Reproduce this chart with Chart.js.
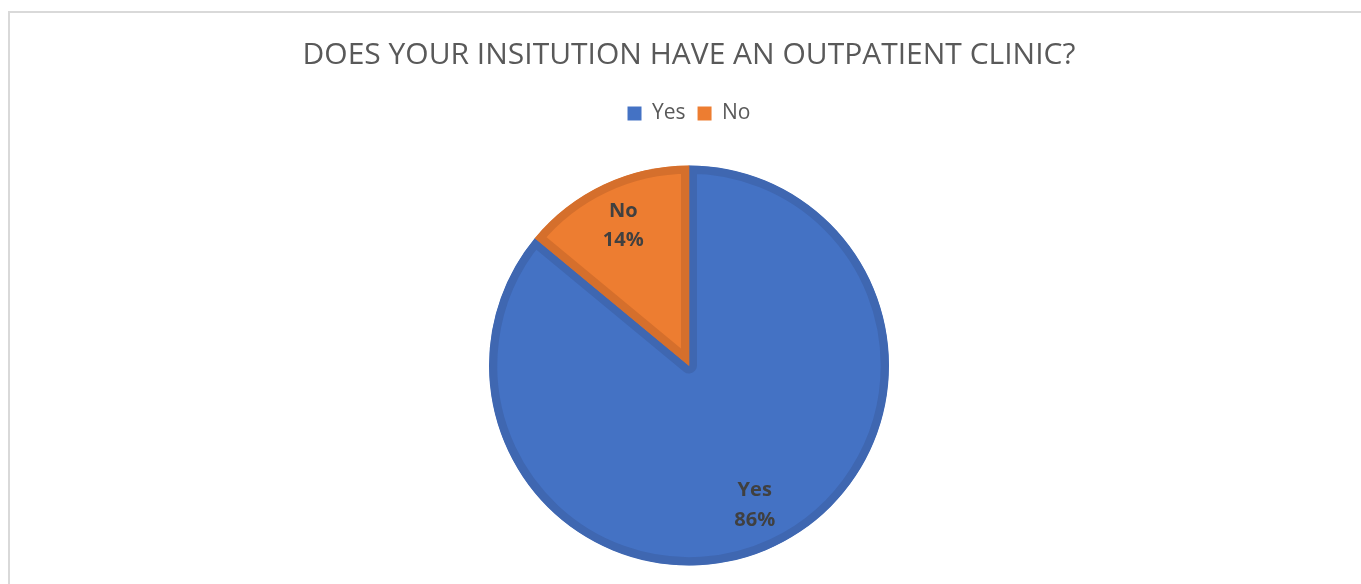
<!DOCTYPE html>
<html>
<head>
<meta charset="utf-8">
<script src="https://cdn.jsdelivr.net/npm/chart.js@4"></script>
<style>
  html, body { margin: 0; padding: 0; background: #fff; overflow: hidden; }
  #frame { position: absolute; left: 8px; top: 11px; width: 1400px; height: 620px; border: 2px solid #d9d9d9; box-sizing: border-box; }
  #wrap { position: absolute; left: 0; top: 0; width: 1361px; height: 584px; }
</style>
</head>
<body>
<div id="frame"></div>
<div id="wrap"><canvas id="pie"></canvas></div>
<script>
// chart data
var categories = ['Yes', 'No'];
var shares = [86, 14];
var fillColors = ['#4472c4', '#ed7d31'];
var edgeColors = ['#3f67b1', '#d56f2c'];
var chartTitle = 'DOES YOUR INSITUTION HAVE AN OUTPATIENT CLINIC?';

// draws "Yes / 86%" style labels inside each slice
var sliceLabels = {
    id: 'sliceLabels',
    afterDatasetsDraw: function (chart) {
        var ctx = chart.ctx;
        var meta = chart.getDatasetMeta(0);
        ctx.save();
        ctx.fillStyle = '#404040';
        ctx.font = 'bold 20px "Open Sans", sans-serif';
        ctx.textAlign = 'center';
        ctx.textBaseline = 'middle';
        meta.data.forEach(function (arc, i) {
            var mid = (arc.startAngle + arc.endAngle) / 2;
            var r = arc.outerRadius * 0.772;
            var x = arc.x + Math.cos(mid) * r;
            var y = arc.y + Math.sin(mid) * r;
            ctx.fillText(categories[i], x, y - 14.5);
            ctx.fillText(shares[i] + '%', x, y + 15);
        });
        ctx.restore();
    }
};

// extra space below the legend
var legendGap = {
    id: 'legendGap',
    beforeInit: function (chart) {
        var fit = chart.legend.fit;
        chart.legend.fit = function () {
            fit.bind(chart.legend)();
            this.height += 13;
        };
    }
};

var chart = new Chart(document.getElementById('pie').getContext('2d'), {
    type: 'pie',
    data: {
        labels: categories,
        datasets: [{
            data: shares,
            backgroundColor: fillColors,
            borderColor: edgeColors,
            borderWidth: 8,
            borderAlign: 'inner',
            radius: 200
        }]
    },
    options: {
        responsive: true,
        maintainAspectRatio: false,
        animation: false,
        layout: { padding: { left: 17, bottom: 0 } },
        plugins: {
            title: {
                display: true,
                text: chartTitle,
                color: '#595959',
                font: { family: '"Open Sans", sans-serif', size: 30, weight: 'normal' },
                padding: { top: 37, bottom: 18 }
            },
            legend: {
                position: 'top',
                labels: {
                    color: '#595959',
                    font: { family: '"Open Sans", sans-serif', size: 21 },
                    boxWidth: 14,
                    boxHeight: 14,
                    padding: 12,
                    generateLabels: function (chart) {
                        var items = Chart.controllers.pie.overrides.plugins.legend.labels.generateLabels(chart);
                        items.forEach(function (item) {
                            item.lineWidth = 0;
                            item.strokeStyle = item.fillStyle;
                        });
                        return items;
                    }
                }
            },
            tooltip: { enabled: false }
        }
    },
    plugins: [sliceLabels, legendGap]
});
</script>
</body>
</html>
